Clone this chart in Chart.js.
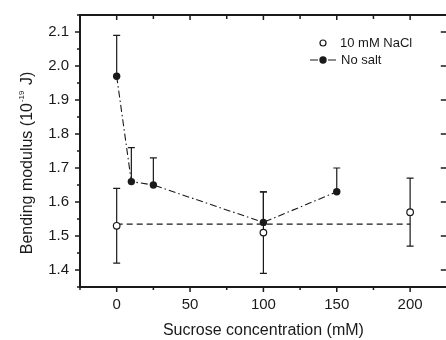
<!DOCTYPE html>
<html>
<head>
<meta charset="utf-8">
<script src="https://cdn.jsdelivr.net/npm/chart.js@4.4.0/dist/chart.umd.min.js"></script>
<style>
  html, body { margin: 0; padding: 0; background: #fff; overflow: hidden; }
  #wrap { width: 452px; height: 340px; }
</style>
</head>
<body>
<div id="wrap"><canvas id="chart" width="452" height="340"></canvas></div>
<script>
// values
const naclX = [0, 100, 200];
const naclY = [1.53, 1.51, 1.57];
const naclErr = [0.11, 0.12, 0.10];

const noSaltX = [0, 10, 25, 100, 150];
const noSaltY = [1.97, 1.66, 1.65, 1.54, 1.63];
const noSaltErr = [0.12, 0.10, 0.08, 0.09, 0.07]; // only upper bars drawn

const meanX = [0, 200];
const meanY = [1.535, 1.535];

const xTicks = [0, 50, 100, 150, 200];
const yTicks = [1.4, 1.5, 1.6, 1.7, 1.8, 1.9, 2.0, 2.1];
const legendLabels = ['10 mM NaCl', 'No salt'];

const FONT = '"Liberation Sans", Arial, sans-serif';
const INK = '#1a1a1a';

function pts(xs, ys) {
    return xs.map(function (x, i) { return { x: x, y: ys[i] }; });
}
function near(list, v) {
    return list.some(function (t) { return Math.abs(t - v) < 1e-6; });
}

const decor = {
    id: 'decor',
    beforeDatasetsDraw: function (chart) {
        const ctx = chart.ctx, xs = chart.scales.x, ys = chart.scales.y;
        ctx.save();
        ctx.strokeStyle = INK;
        ctx.lineWidth = 1.2;
        function bar(x, y, up, down) {
            const px = xs.getPixelForValue(x);
            const top = ys.getPixelForValue(y + up);
            const bot = ys.getPixelForValue(y - down);
            ctx.beginPath();
            ctx.moveTo(px, top); ctx.lineTo(px, bot);
            ctx.moveTo(px - 3.5, top); ctx.lineTo(px + 3.5, top);
            if (down > 0) { ctx.moveTo(px - 3.5, bot); ctx.lineTo(px + 3.5, bot); }
            ctx.stroke();
        }
        naclX.forEach(function (x, i) { bar(x, naclY[i], naclErr[i], naclErr[i]); });
        noSaltX.forEach(function (x, i) { bar(x, noSaltY[i], noSaltErr[i], 0); });
        ctx.restore();
    },
    afterDatasetsDraw: function (chart) {
        const ctx = chart.ctx, a = chart.chartArea;
        const xs = chart.scales.x, ys = chart.scales.y;
        ctx.save();
        ctx.strokeStyle = INK;
        ctx.fillStyle = INK;

        // frame: left, top, bottom (right edge is cropped off in the original)
        ctx.lineWidth = 2;
        ctx.beginPath();
        ctx.moveTo(a.right + 2, a.top);
        ctx.lineTo(a.left, a.top);
        ctx.lineTo(a.left, a.bottom);
        ctx.lineTo(a.right + 2, a.bottom);
        ctx.stroke();

        // ticks
        ctx.lineWidth = 1.5;
        ctx.beginPath();
        xs.ticks.forEach(function (t) {
            const px = xs.getPixelForValue(t.value);
            const major = Math.abs(t.value % 50) < 1e-6;
            ctx.moveTo(px, a.bottom); ctx.lineTo(px, a.bottom + (major ? 5 : 3));
            ctx.moveTo(px, a.top); ctx.lineTo(px, a.top + (major ? 5 : 4));
        });
        ys.ticks.forEach(function (t) {
            const py = ys.getPixelForValue(t.value);
            const major = near(yTicks, t.value);
            ctx.moveTo(a.left, py); ctx.lineTo(a.left - (major ? 5 : 3), py);
            if (major) { ctx.moveTo(a.right, py); ctx.lineTo(a.right - 6, py); }
        });
        ctx.stroke();

        // legend
        ctx.font = '13px ' + FONT;
        ctx.textBaseline = 'middle';
        ctx.textAlign = 'left';
        ctx.lineWidth = 1.2;
        ctx.beginPath();
        ctx.arc(323, 43, 3, 0, Math.PI * 2);
        ctx.fillStyle = '#fff';
        ctx.fill();
        ctx.stroke();
        ctx.fillStyle = INK;
        ctx.fillText(legendLabels[0], 340, 43);
        ctx.beginPath();
        ctx.moveTo(310, 60); ctx.lineTo(318, 60);
        ctx.moveTo(328, 60); ctx.lineTo(336, 60);
        ctx.stroke();
        ctx.beginPath();
        ctx.arc(323, 60, 3.7, 0, Math.PI * 2);
        ctx.fill();
        ctx.fillText(legendLabels[1], 341, 60);

        // x title
        ctx.font = '16px ' + FONT;
        ctx.textAlign = 'center';
        ctx.textBaseline = 'alphabetic';
        ctx.fillText('Sucrose concentration (mM)', (a.left + a.right) / 2, 335);

        // y title with superscript
        const p1 = 'Bending modulus (10', sup = '-19', p2 = ' J)';
        ctx.font = '16px ' + FONT;
        const w1 = ctx.measureText(p1).width, w3 = ctx.measureText(p2).width;
        ctx.font = '8px ' + FONT;
        const w2 = ctx.measureText(sup).width + 2;
        const total = w1 + w2 + w3;
        ctx.translate(32, 163);
        ctx.rotate(-Math.PI / 2);
        ctx.textAlign = 'left';
        const x0 = -total / 2;
        ctx.font = '16px ' + FONT;
        ctx.fillText(p1, x0, 0);
        ctx.font = '8px ' + FONT;
        ctx.fillText(sup, x0 + w1 + 1, -8);
        ctx.font = '16px ' + FONT;
        ctx.fillText(p2, x0 + w1 + w2, 0);
        ctx.restore();
    }
};

Chart.defaults.font.family = FONT;
Chart.defaults.font.size = 15;
Chart.defaults.color = INK;

new Chart(document.getElementById('chart'), {
    type: 'scatter',
    data: {
        datasets: [{
            label: legendLabels[0],
            data: pts(naclX, naclY),
            showLine: false,
            pointRadius: 3.3,
            pointBorderWidth: 1.2,
            pointBackgroundColor: '#fff',
            pointBorderColor: INK,
            order: 0
        }, {
            label: legendLabels[1],
            data: pts(noSaltX, noSaltY),
            showLine: true,
            borderColor: INK,
            borderWidth: 1.1,
            borderDash: [7, 3, 1.5, 3],
            pointRadius: 3.7,
            pointBorderWidth: 0,
            pointBackgroundColor: INK,
            order: 1
        }, {
            label: 'mean',
            data: pts(meanX, meanY),
            showLine: true,
            borderColor: INK,
            borderWidth: 1.2,
            borderDash: [6, 4],
            pointRadius: 0,
            order: 2
        }]
    },
    options: {
        responsive: false,
        animation: false,
        layout: { padding: { left: 0, top: 10, right: 3, bottom: 0 } },
        plugins: { legend: { display: false }, tooltip: { enabled: false } },
        scales: {
            x: {
                type: 'linear',
                min: -25, max: 225,
                afterFit: function (s) { s.height = 53; },
                grid: { display: false, drawTicks: true, tickLength: 5 },
                border: { display: false },
                ticks: {
                    stepSize: 25, autoSkip: false, maxRotation: 0, padding: 4,
                    callback: function (v) { return near(xTicks, v) ? String(Math.round(v)) : ''; }
                }
            },
            y: {
                min: 1.35, max: 2.15,
                afterFit: function (s) { s.width = 80; },
                grid: { display: false, drawTicks: true, tickLength: 5 },
                border: { display: false },
                ticks: {
                    stepSize: 0.05, autoSkip: false, padding: 6,
                    callback: function (v) { return near(yTicks, v) ? v.toFixed(1) : ''; }
                }
            }
        }
    },
    plugins: [decor]
});
</script>
</body>
</html>
